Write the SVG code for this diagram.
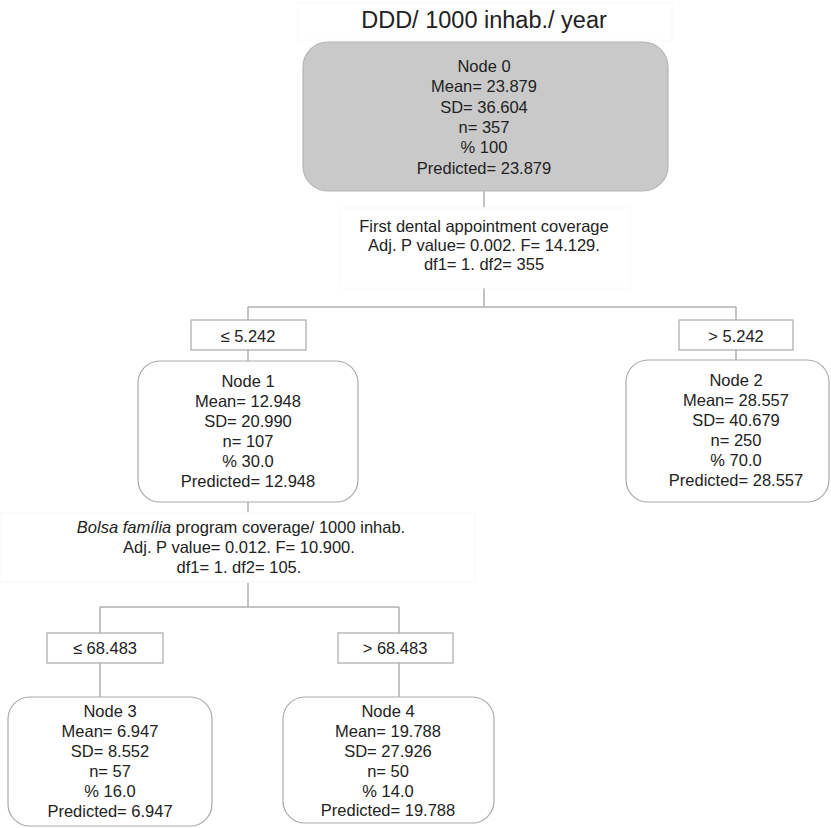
<svg xmlns="http://www.w3.org/2000/svg" width="831" height="828" viewBox="0 0 831 828">
<style>
text{font-family:"Liberation Sans",Arial,sans-serif;font-size:16.5px;fill:#222;text-anchor:middle}
.title{font-size:23.5px}
.node{fill:#fff;stroke:#a9a9a9;stroke-width:1.2}
.root{fill:#c9c9c9;stroke:#b5b5b5;stroke-width:1.2}
.lab{fill:#fff;stroke:#a9a9a9;stroke-width:1.2}
.faint{fill:#fff;stroke:#f8f8f8;stroke-width:1}
.conn{fill:none;stroke:#b0b0b0;stroke-width:1.5}
</style>
<rect width="831" height="828" fill="#fff"/>
<g id="title">
<rect class="faint" x="298" y="3" width="374" height="37"/>
<text class="title" x="484" y="28">DDD/ 1000 inhab./ year</text>
</g>
<g id="connectors">
<path class="conn" d="M484 191V207M484 287V307M248 307H736M248 307V320M248 350V361M736 307V320M736 350V360"/>
<path class="conn" d="M248 502V512M248 583V607M100 607H399M100 607V633M100 663V697M399 607V633M399 663V697"/>
</g>
<g id="split0">
<rect class="faint" x="340" y="208" width="290" height="80"/>
<text x="484" y="232">First dental appointment coverage</text>
<text x="484" y="251">Adj. P value= 0.002. F= 14.129.</text>
<text x="484" y="270">df1= 1. df2= 355</text>
</g>
<g id="split1">
<rect class="faint" x="0" y="513" width="475" height="69"/>
<text x="241" y="533"><tspan font-style="italic">Bolsa família</tspan> program coverage/ 1000 inhab.</text>
<text x="239" y="553">Adj. P value= 0.012. F= 10.900.</text>
<text x="239" y="573">df1= 1. df2= 105.</text>
</g>
<g id="node0">
<rect class="root" x="303" y="42" width="365" height="149" rx="25"/>
<text x="484" y="72">Node 0</text>
<text x="484" y="92">Mean= 23.879</text>
<text x="484" y="113">SD= 36.604</text>
<text x="484" y="133">n= 357</text>
<text x="484" y="153">% 100</text>
<text x="484" y="174">Predicted= 23.879</text>
</g>
<g id="edge1">
<rect class="lab" x="191" y="320" width="115" height="30"/>
<text x="248" y="342">≤ 5.242</text>
</g>
<g id="edge2">
<rect class="lab" x="679" y="320" width="114" height="30"/>
<text x="736" y="342">&gt; 5.242</text>
</g>
<g id="node1">
<rect class="node" x="138" y="361" width="220" height="141" rx="22"/>
<text x="248" y="387">Node 1</text>
<text x="248" y="407">Mean= 12.948</text>
<text x="248" y="427">SD= 20.990</text>
<text x="248" y="447">n= 107</text>
<text x="248" y="467">% 30.0</text>
<text x="248" y="487">Predicted= 12.948</text>
</g>
<g id="node2">
<rect class="node" x="626" y="360" width="203" height="142" rx="22"/>
<text x="736" y="386">Node 2</text>
<text x="736" y="406">Mean= 28.557</text>
<text x="736" y="426">SD= 40.679</text>
<text x="736" y="446">n= 250</text>
<text x="736" y="466">% 70.0</text>
<text x="736" y="486">Predicted= 28.557</text>
</g>
<g id="edge3">
<rect class="lab" x="47" y="633" width="116" height="30"/>
<text x="105" y="654">≤ 68.483</text>
</g>
<g id="edge4">
<rect class="lab" x="338" y="633" width="115" height="30"/>
<text x="395" y="654">&gt; 68.483</text>
</g>
<g id="node3">
<rect class="node" x="8" y="697" width="204" height="129" rx="22"/>
<text x="110" y="717">Node 3</text>
<text x="110" y="737">Mean= 6.947</text>
<text x="110" y="757">SD= 8.552</text>
<text x="110" y="777">n= 57</text>
<text x="110" y="797">% 16.0</text>
<text x="110" y="817">Predicted= 6.947</text>
</g>
<g id="node4">
<rect class="node" x="283" y="697" width="211" height="126" rx="22"/>
<text x="388" y="717">Node 4</text>
<text x="388" y="737">Mean= 19.788</text>
<text x="388" y="757">SD= 27.926</text>
<text x="388" y="777">n= 50</text>
<text x="388" y="797">% 14.0</text>
<text x="388" y="816">Predicted= 19.788</text>
</g>
</svg>
